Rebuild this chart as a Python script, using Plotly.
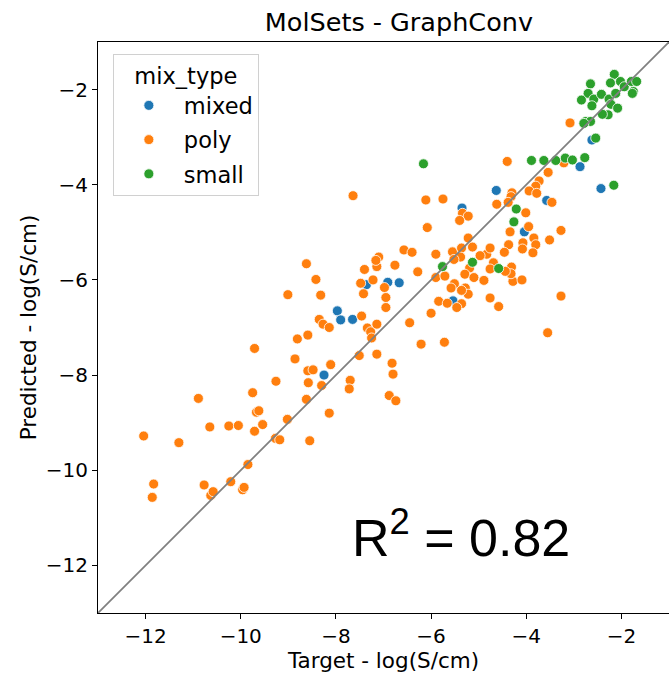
import plotly.graph_objects as go

# ---- data (Target, Predicted) in log(S/cm) ----
poly_x = [-12.04, -11.83, -11.86, -11.30, -10.89, -10.77, -10.65, -10.63, -10.58, -10.25,
          -10.05, -10.21, -9.96, -9.93, -9.85, -9.75, -9.71, -9.67, -9.62, -9.54,
          -9.27, -9.18, -9.26, -9.02, -9.01, -8.86, -8.81, -8.62, -8.59, -8.58,
          -8.55, -8.59, -8.62, -9.71, -8.42, -8.32, -8.35, -8.27, -8.14, -8.48,
          -8.30, -8.11, -8.14, -7.70, -7.72, -7.51, -7.14, -6.88, -6.74, -6.82,
          -6.80, -7.46, -7.34, -7.27, -7.25, -7.14, -7.48, -7.42, -7.40, -7.22,
          -7.14, -7.10, -7.16, -6.98, -6.95, -6.95, -6.76, -6.57, -6.40, -6.28,
          -6.45, -6.21, -5.72, -6.00, -6.08, -5.90, -5.55, -5.36, -5.22, -5.13,
          -5.38, -5.52, -4.83, -4.97, -5.19, -5.29, -5.10, -4.89, -5.90, -5.71,
          -5.51, -5.58, -5.28, -5.22, -5.36, -4.76, -5.84, -5.66, -5.36, -5.46,
          -7.64, -6.11, -5.75, -5.34, -5.22, -5.40, -4.40, -3.21, -3.54, -3.73,
          -3.80, -3.94, -3.78, -4.30, -4.32, -4.38, -4.62, -3.46, -4.01, -3.08,
          -3.95, -4.34, -3.27, -3.51, -3.84, -3.80, -3.86, -4.07, -4.08, -4.37,
          -4.46, -4.28, -4.09, -4.31, -4.32, -4.44, -3.27, -3.55, -4.69, -4.76,
          -4.58, -4.76]
poly_y = [-9.28, -10.29, -10.57, -9.42, -8.49, -10.31, -9.09, -10.53, -10.45, -9.07,
          -9.06, -10.24, -10.41, -10.36, -9.88, -8.37, -9.18, -8.78, -8.75, -9.04,
          -9.33, -9.36, -8.13, -8.93, -6.31, -7.66, -7.24, -8.51, -7.91, -8.16,
          -9.38, -7.16, -5.66, -7.44, -5.99, -6.32, -6.83, -6.93, -7.00, -7.89,
          -8.22, -7.78, -8.80, -8.11, -8.29, -7.59, -7.56, -8.43, -8.54, -7.75,
          -7.98, -6.76, -7.01, -7.09, -7.22, -6.93, -6.07, -6.29, -5.78, -6.00,
          -5.72, -5.52, -5.59, -6.16, -6.37, -6.58, -5.69, -5.37, -5.42, -5.83,
          -6.90, -7.35, -7.31, -6.70, -4.90, -5.46, -5.41, -5.33, -5.12, -5.31,
          -5.52, -5.57, -5.46, -5.49, -5.75, -5.88, -5.95, -6.01, -5.95, -5.92,
          -6.08, -6.17, -6.17, -6.30, -6.22, -6.38, -6.45, -6.49, -6.50, -6.58,
          -4.23, -4.32, -4.30, -4.60, -4.66, -4.75, -3.51, -3.54, -3.74, -3.92,
          -4.03, -4.13, -4.18, -4.17, -4.25, -4.37, -4.41, -4.37, -4.59, -2.70,
          -4.88, -4.99, -4.96, -5.16, -5.12, -5.26, -5.43, -5.22, -5.35, -5.26,
          -5.42, -6.03, -6.00, -5.73, -5.87, -5.82, -6.34, -7.11, -5.64, -5.77,
          -6.56, -5.33]

mixed_x = [-8.25, -7.97, -7.90, -7.65, -7.36, -6.91, -6.67, -5.54, -5.35, -4.63,
           -3.57, -4.04, -2.87, -2.62, -2.43]
mixed_y = [-8.00, -6.65, -6.84, -6.83, -6.10, -6.05, -6.06, -6.44, -4.49, -4.12,
           -4.33, -4.99, -3.62, -3.06, -4.08]

small_x = [-6.16, -5.76, -5.13, -4.58, -4.21, -4.26, -3.89, -3.63, -3.38, -3.18,
           -3.03, -2.77, -2.54, -2.16, -2.15, -2.23, -2.02, -1.94, -1.79, -1.68,
           -1.75, -1.77, -2.65, -2.70, -2.84, -2.58, -2.42, -2.62, -2.26, -2.22,
           -2.08, -2.28, -2.40, -2.75, -2.65, -2.79, -2.12]
small_y = [-3.56, -5.72, -5.63, -5.76, -4.51, -4.78, -3.49, -3.49, -3.49, -3.44,
           -3.48, -3.43, -3.02, -4.01, -1.68, -1.86, -1.83, -1.94, -1.83, -1.83,
           -2.04, -2.08, -1.88, -2.08, -2.22, -2.20, -2.10, -2.34, -2.20, -2.31,
           -2.39, -2.53, -2.52, -2.67, -2.67, -2.71, -2.08]

categories = ["mixed", "poly", "small"]
colors = {"mixed": "#1f77b4", "poly": "#ff7f0e", "small": "#2ca02c"}
series = {"mixed": (mixed_x, mixed_y), "poly": (poly_x, poly_y), "small": (small_x, small_y)}

axis_lim = [-13, -1]
tick_vals = [-12, -10, -8, -6, -4, -2]
r2_value = 0.82

FONT = "DejaVu Sans"

fig = go.Figure()
for cat in categories:
    xs, ys = series[cat]
    fig.add_trace(go.Scatter(
        x=xs, y=ys, mode="markers", name=cat, legendgroup=cat,
        marker=dict(size=10, color=colors[cat], line=dict(color="white", width=0.8)),
    ))

fig.add_trace(go.Scatter(
    x=axis_lim, y=axis_lim, mode="lines", showlegend=False,
    line=dict(color="#808080", width=1.8), hoverinfo="skip",
))

fig.add_annotation(
    text=f"R<sup>2</sup> = {r2_value:.2f}", xref="paper", yref="paper",
    x=0.636, y=0.138, xanchor="center", yanchor="middle", showarrow=False,
    font=dict(family="Liberation Sans, Arial", size=52, color="black"),
)

fig.update_layout(
    width=669, height=673,
    margin=dict(l=98, r=0, t=42, b=60),
    paper_bgcolor="white", plot_bgcolor="white",
    font=dict(family=FONT, size=20, color="black"),
    title=dict(text="MolSets - GraphConv", x=0.527, xref="paper", y=1 - 22 / 673,
               yanchor="middle", xanchor="center", font=dict(family=FONT, size=25.5, color="black")),
    legend=dict(
        title=dict(text="mix_type", side="top center", font=dict(family=FONT, size=22.5)),
        x=0.026, y=0.979, xanchor="left", yanchor="top",
        bgcolor="rgba(255,255,255,0.8)", bordercolor="#d0d0d0", borderwidth=1,
        font=dict(family=FONT, size=22.5), tracegroupgap=2, itemwidth=60,
    ),
    showlegend=True,
)

fig.update_xaxes(
    range=axis_lim, tickvals=tick_vals, showgrid=False, zeroline=False,
    showline=True, linecolor="black", linewidth=1, mirror=True,
    ticks="outside", ticklen=5, tickwidth=1, tickcolor="black",
    tickfont=dict(family=FONT, size=20),
    title=dict(text="Target - log(S/cm)", font=dict(family=FONT, size=21.5), standoff=3),
)
fig.update_yaxes(
    range=axis_lim, tickvals=tick_vals, showgrid=False, zeroline=False,
    showline=True, linecolor="black", linewidth=1, mirror=False,
    ticks="outside", ticklen=5, tickwidth=1, tickcolor="black",
    tickfont=dict(family=FONT, size=20),
    title=dict(text="Predicted - log(S/cm)", font=dict(family=FONT, size=21.5), standoff=3),
)

fig.write_html(
    "out.html",
    config={"displayModeBar": False},
    post_script="document.body.style.margin='0px';document.body.style.overflow='hidden';",
)
